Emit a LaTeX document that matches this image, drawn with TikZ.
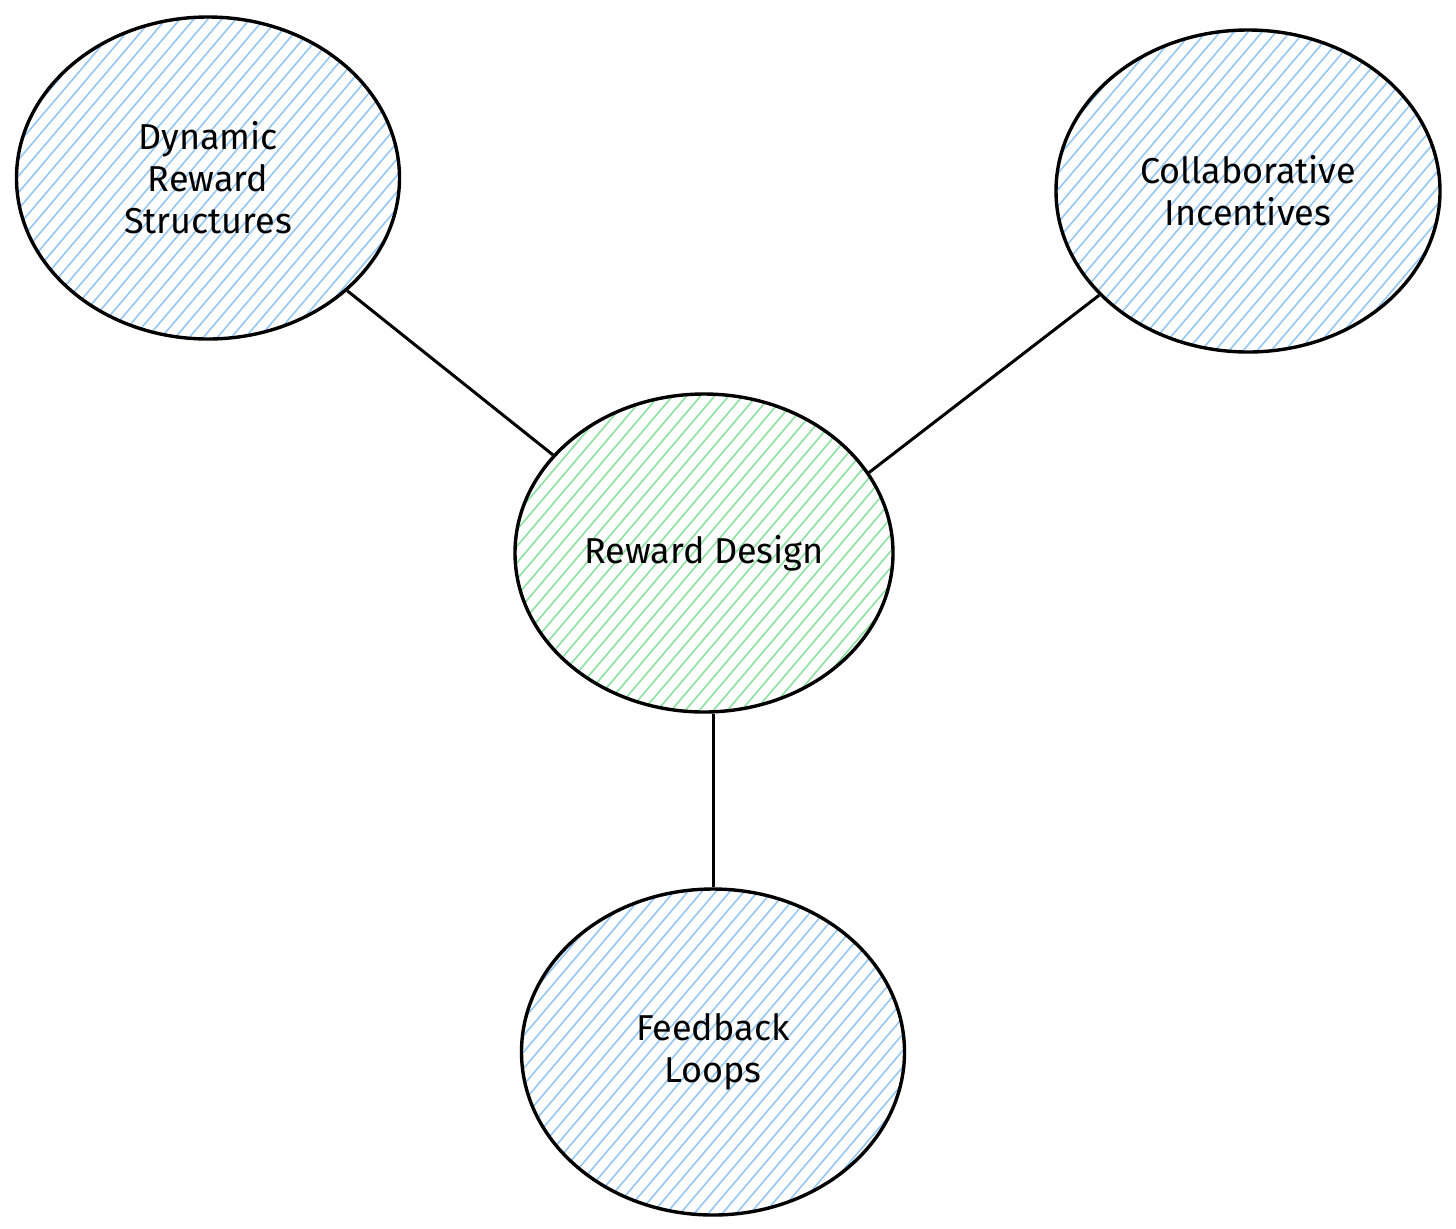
\documentclass[tikz,border=0pt]{standalone}
\usepackage{fontspec}
\setmainfont{Fira Sans}
\usetikzlibrary{shapes.geometric}

\definecolor{hatchblue}{RGB}{150,198,242}
\definecolor{hatchgreen}{RGB}{140,225,160}

\tikzset{
    bubble/.style={ellipse, draw, line width=1.7pt, align=center,
        font=\fontsize{18}{21}\selectfont},
    hatch/.style={path picture={
        \foreach \k in {-360,-353,...,360}
        \draw[color=#1, line width=0.8pt] ([xshift=\k pt]path picture bounding box.south)
            ++(-170pt,-200pt) -- ++(340pt,400pt);
    }},
    link/.style={line width=1.5pt}
}

\begin{document}
\begin{tikzpicture}[x=0.5pt, y=-0.5pt]
        % fix the canvas
        \useasboundingbox (0,0) rectangle (1456,1228);
        % draw the centre topic
        \node[bubble, hatch=hatchgreen, minimum width=189pt, minimum height=159pt] (design) at (704,553) {Reward Design};
        % draw the three branches
        \node[bubble, hatch=hatchblue, minimum width=191.5pt, minimum height=161pt] (dynamic) at (208,178) {Dynamic\\Reward\\Structures};
        \node[bubble, hatch=hatchblue, minimum width=192pt, minimum height=161pt] (collab) at (1248,191) {Collaborative\\Incentives};
        \node[bubble, hatch=hatchblue, minimum width=191.5pt, minimum height=163pt] (feedback) at (713,1052) {Feedback\\Loops};
        % draw links
        \draw[link] (dynamic.321) -- (design.147);
        \draw[link] (collab.215) -- (design.26);
        \draw[link] (feedback.north |- design.south) -- (feedback.north);
    \end{tikzpicture}
\end{document}
